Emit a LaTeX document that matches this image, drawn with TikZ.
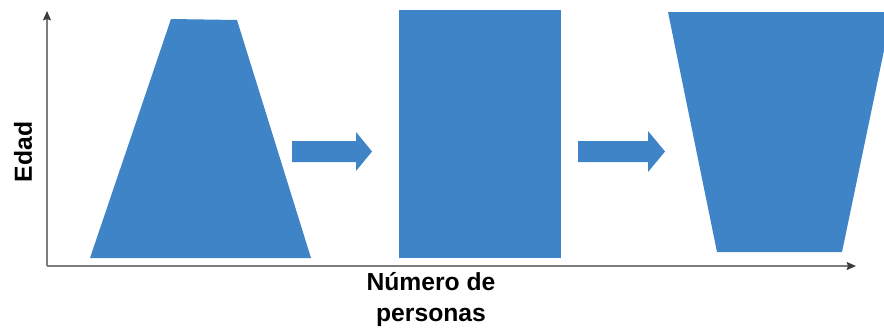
\documentclass[tikz,border=0pt]{standalone}
\usepackage{fontspec}
\setmainfont{Liberation Sans}
\usepackage{xcolor}
\definecolor{ColBlock}{RGB}{62,132,198}
\definecolor{ColAxis}{RGB}{125,125,125}
\definecolor{ColTip}{RGB}{60,60,60}
\usepackage{tikz}
\usetikzlibrary{arrows.meta}
\tikzstyle{Block}=[fill=ColBlock,draw=none]
\tikzstyle{Axis}=[draw=ColAxis,line width=1pt,
-{Stealth[length=7pt,width=6pt,inset=1pt,color=ColTip]}]
\tikzstyle{Label}=[font=\bfseries\fontsize{18.5}{23}\selectfont,inner sep=0pt]

\begin{document}
\begin{tikzpicture}[x=0.75pt,y=-0.75pt]
        \useasboundingbox(0,0)rectangle(884,330);
        \coordinate(O)at(47,266);
        \coordinate(Ytop)at(47,11);
        \coordinate(Xend)at(856,266);
        % pyramid, column, inverted pyramid
        \fill[Block](90,258)--(311,258)--(237,20)--(171,19)--cycle;
        \fill[Block](399,10)rectangle(561,258);
        \begin{scope}
            \clip(0,0)rectangle(884,330);
            \fill[Block](668,12)--(892,12)--(842,252)--(717,252)--cycle;
        \end{scope}
        % block arrows
        \fill[Block](292,141)--(356,141)--(356,132)--(372,151.5)
            --(356,171)--(356,162)--(292,162)--cycle;
        \fill[Block](578,141)--(648,141)--(648,131)--(665,151.5)
            --(648,172)--(648,162)--(578,162)--cycle;
        \draw[Axis](O)--(Ytop);
        \draw[Axis](O)--(Xend);
        \node[Label,rotate=90](edad)at(23,152){Edad};
        \node[Label,align=center,anchor=north](num)at(431,272)
            {Número de\\personas};
    \end{tikzpicture}
\end{document}
